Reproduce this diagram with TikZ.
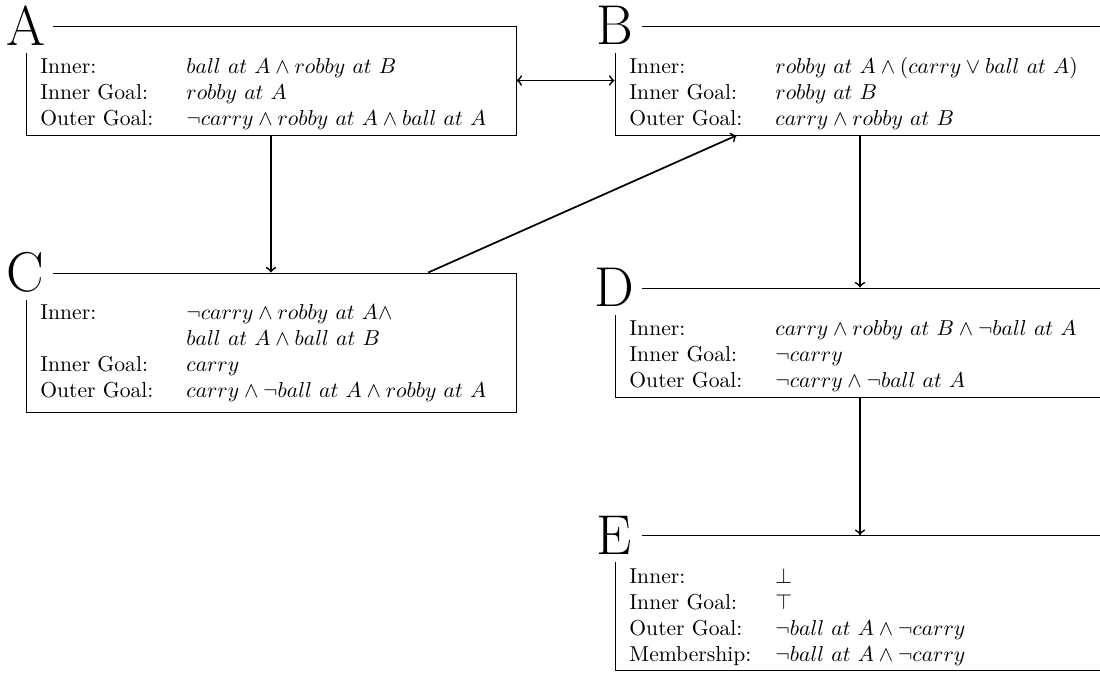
\documentclass[tikz,border=0pt]{standalone}
\begin{document}
\begin{tikzpicture}[x=0.463pt, y=-0.463pt,
  box/.style={draw, line width=0.4pt, rectangle, minimum width=226.9pt, inner sep=0pt},
  tag/.style={fill=white, inner sep=0pt, minimum size=25pt, font=\fontsize{26}{30}\selectfont},
  info/.style={anchor=north west, inner sep=0pt, align=left},
  link/.style={thick, ->},
]
\useasboundingbox (0,0) rectangle (1100,673);
\clip (0,0) rectangle (1100,673);

% state boxes
\node[box, minimum height=50.5pt] (A) at (271,80.5) {};
\node[box, minimum height=50.5pt] (B) at (860,80.5) {};
\node[box, minimum height=64.4pt] (C) at (271,342.5) {};
\node[box, minimum height=50.5pt] (D) at (860,342.5) {};
\node[box, minimum height=62.5pt] (E) at (860,603) {};

% contents
\node[info] (tA) at (40,55) {\begin{tabular}{@{}p{67.6pt}@{}l@{}}
Inner: & $ball\ at\ A \wedge robby\ at\ B$\\
Inner Goal: & $robby\ at\ A$\\
Outer Goal: & $\neg carry \wedge robby\ at\ A \wedge ball\ at\ A$
\end{tabular}};
\node[info] (tB) at (629,55) {\begin{tabular}{@{}p{67.6pt}@{}l@{}}
Inner: & $robby\ at\ A \wedge (carry \vee ball\ at\ A)$\\
Inner Goal: & $robby\ at\ B$\\
Outer Goal: & $carry \wedge robby\ at\ B$
\end{tabular}};
\node[info] (tC) at (40,301) {\begin{tabular}{@{}p{67.6pt}@{}l@{}}
Inner: & $\neg carry \wedge robby\ at\ A \wedge$\\
 & $ball\ at\ A \wedge ball\ at\ B$\\
Inner Goal: & $carry$\\
Outer Goal: & $carry \wedge \neg ball\ at\ A \wedge robby\ at\ A$
\end{tabular}};
\node[info] (tD) at (629,317) {\begin{tabular}{@{}p{67.6pt}@{}l@{}}
Inner: & $carry \wedge robby\ at\ B \wedge \neg ball\ at\ A$\\
Inner Goal: & $\neg carry$\\
Outer Goal: & $\neg carry \wedge \neg ball\ at\ A$
\end{tabular}};
\node[info] (tE) at (629,565) {\begin{tabular}{@{}p{67.6pt}@{}l@{}}
Inner: & $\bot$\\
Inner Goal: & $\top$\\
Outer Goal: & $\neg ball\ at\ A \wedge \neg carry$\\
Membership: & $\neg ball\ at\ A \wedge \neg carry$
\end{tabular}};

% letters on the corners
\node[tag] (lA) at (A.north west) {A};
\node[tag] (lB) at (B.north west) {B};
\node[tag] (lC) at (C.north west) {C};
\node[tag] (lD) at (D.north west) {D};
\node[tag] (lE) at (E.north west) {E};

% transitions
\draw[link, <->] (A) -- (B);
\draw[link] (A) -- (C);
\draw[link] (C) -- (B);
\draw[link] (B) -- (D);
\draw[link] (D) -- (E);
\end{tikzpicture}
\end{document}
